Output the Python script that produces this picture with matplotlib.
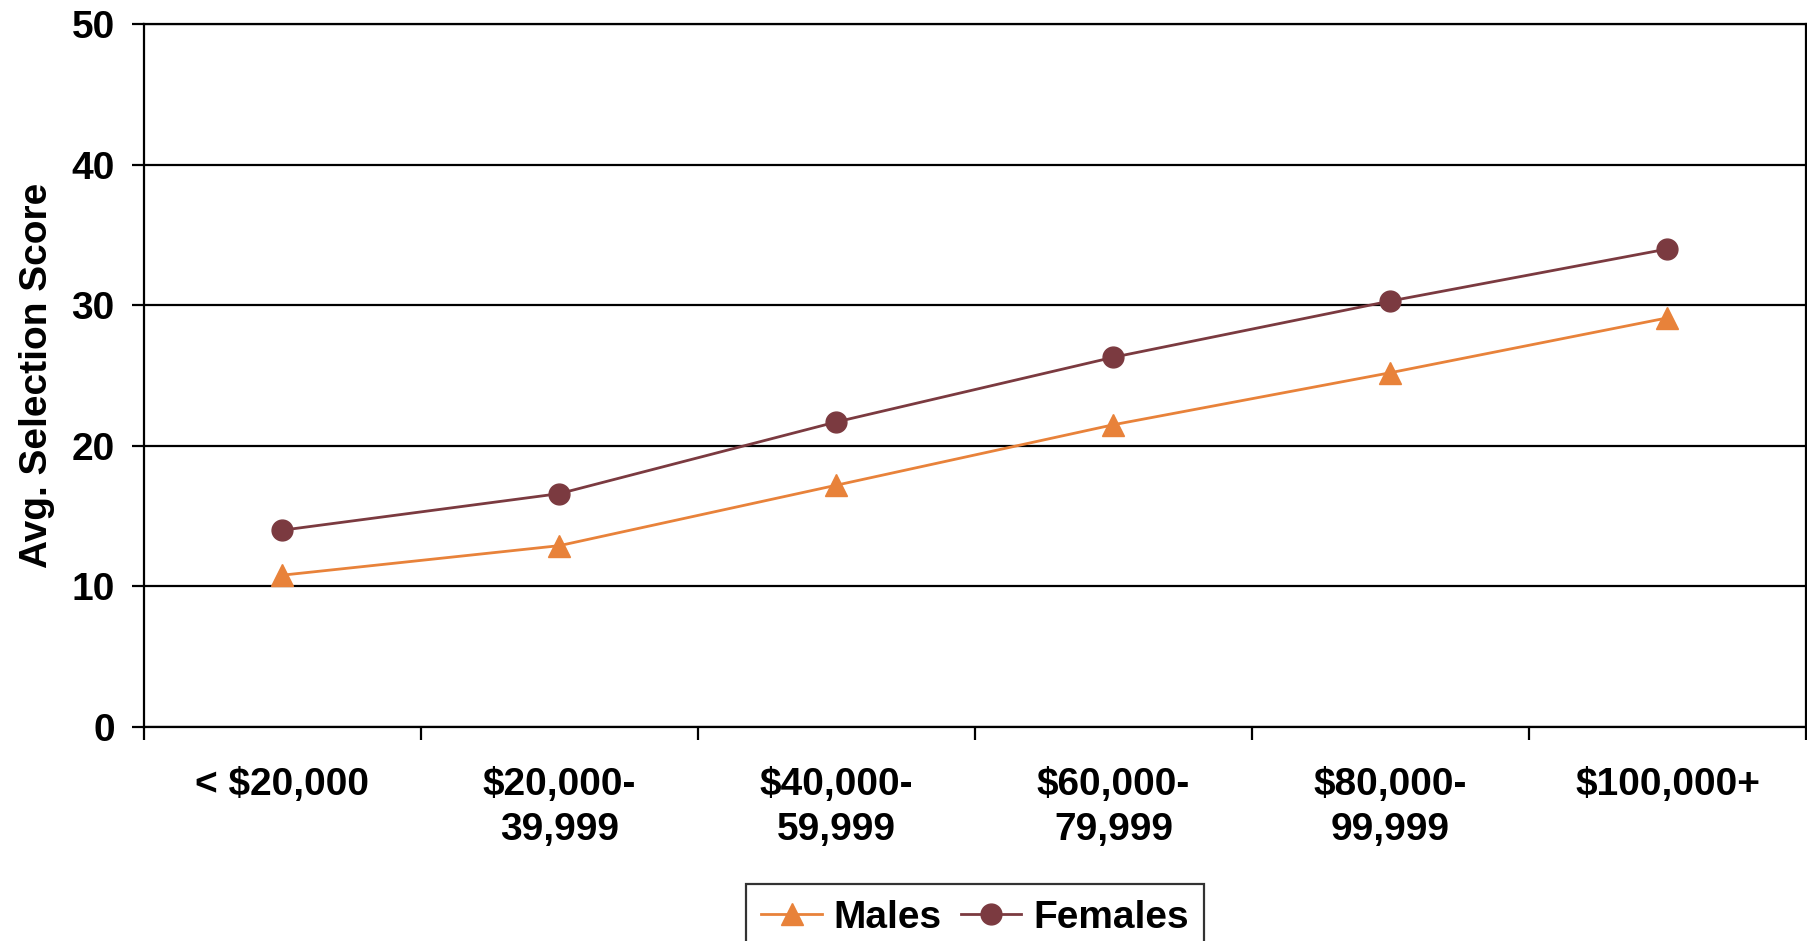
import numpy as np
import matplotlib.pyplot as plt

# income bands and average selection scores
categories = ["< $20,000", "$20,000-\n39,999", "$40,000-\n59,999",
              "$60,000-\n79,999", "$80,000-\n99,999", "$100,000+"]
males = [10.8, 12.9, 17.2, 21.5, 25.2, 29.1]
females = [14.0, 16.6, 21.7, 26.3, 30.3, 34.0]

plt.rcParams['font.family'] = ['Liberation Sans', 'DejaVu Sans']
plt.rcParams['font.weight'] = 'bold'

fig = plt.figure(figsize=(18.08, 9.41), dpi=100)
ax = fig.add_axes([144 / 1808, 1 - 727 / 941, (1806 - 144) / 1808, (727 - 24) / 941])

x = np.arange(len(categories))
ax.plot(x, males, color='#E8823A', lw=2, marker='^', ms=15.5, label='Males')
ax.plot(x, females, color='#7B3A40', lw=2, marker='o', ms=15, label='Females')

ax.set_xlim(-0.5, len(categories) - 0.5)
ax.set_ylim(0, 50)
ax.set_yticks([0, 10, 20, 30, 40, 50])
ax.yaxis.grid(True, color='black', lw=1.6)
ax.set_axisbelow(True)

# boundary ticks (major) and centred labels (minor)
ax.set_xticks(np.arange(len(categories) + 1) - 0.5)
ax.set_xticklabels([])
ax.set_xticks(x, minor=True)
ax.set_xticklabels(categories, minor=True, fontsize=28, fontweight='bold', linespacing=1.3)
ax.tick_params(axis='x', which='major', length=9, width=1.6, direction='out')
ax.tick_params(axis='x', which='minor', length=0, pad=29)
ax.tick_params(axis='y', length=9, width=1.6, pad=12, labelsize=28)
for t in ax.get_yticklabels():
    t.set_fontweight('bold')

for s in ax.spines.values():
    s.set_linewidth(1.6)
    s.set_color('black')

ax.set_ylabel("Avg. Selection Score", fontsize=28, fontweight='bold', labelpad=12)

leg = fig.legend(loc='upper center', bbox_to_anchor=(975 / 1808, 1 - 884 / 941), ncol=2,
                 frameon=True, fancybox=False, edgecolor='black',
                 handlelength=1.55, handletextpad=0.3, columnspacing=0.5,
                 borderpad=0.4, borderaxespad=0,
                 prop={'weight': 'bold', 'size': 28})
leg.get_frame().set_linewidth(1.6)

fig.savefig('out.png', dpi=100)
